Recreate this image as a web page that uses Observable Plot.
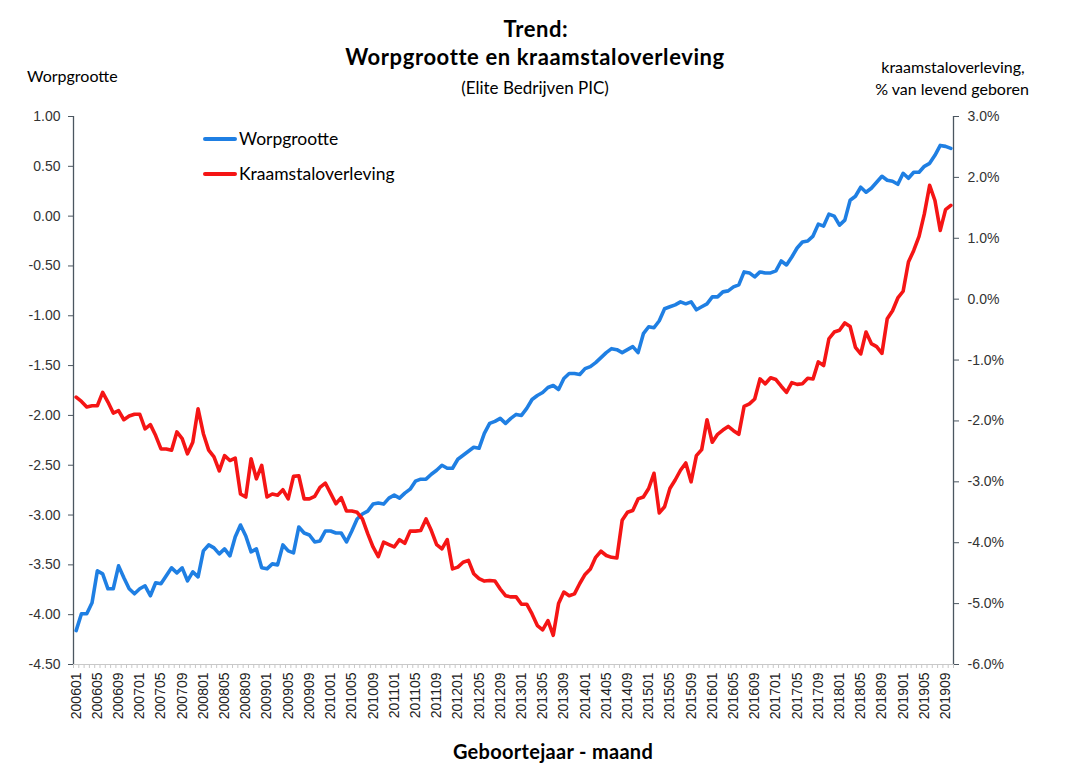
<!DOCTYPE html>
<html>
<head>
<meta charset="utf-8">
<script src="https://cdn.jsdelivr.net/npm/d3@7"></script>
<script src="https://cdn.jsdelivr.net/npm/@observablehq/plot@0.6"></script>
<style>
  body { margin: 0; background: #fff; }
  #wrap { position: relative; width: 1070px; height: 777px; overflow: hidden; }
  .t { position: absolute; white-space: nowrap; line-height: 1; font-family: Lato, "Open Sans", sans-serif; color: #000; }
  .c { transform: translate(-50%, -50%); }
  .l { transform: translate(0, -50%); }
  .sw { position: absolute; height: 4px; width: 34px; border-radius: 2px; }
</style>
</head>
<body>
<div id="wrap">
  <div id="chart"></div>
  <div class="t c" style="left:536px;top:28.5px;font-size:22px;font-weight:700;letter-spacing:0.6px;">Trend:</div>
  <div class="t c" style="left:535px;top:56.5px;font-size:22px;font-weight:700;letter-spacing:0.6px;">Worpgrootte en kraamstaloverleving</div>
  <div class="t c" style="left:535px;top:86.5px;font-size:17px;">(Elite Bedrijven PIC)</div>
  <div class="t l" style="left:27px;top:76px;font-size:16px;">Worpgrootte</div>
  <div class="t c" style="left:953px;top:67px;font-size:16px;">kraamstaloverleving,</div>
  <div class="t c" style="left:952px;top:88.8px;font-size:16px;">% van levend geboren</div>
  <div class="t c" style="left:553px;top:751px;font-size:20px;font-weight:700;letter-spacing:0.3px;">Geboortejaar - maand</div>
  <div class="sw" id="sw1" style="left:203px;top:137px;"></div>
  <div class="t l" id="lg1" style="left:239px;top:139px;font-size:17.5px;"></div>
  <div class="sw" id="sw2" style="left:203px;top:172px;"></div>
  <div class="t l" id="lg2" style="left:239px;top:174px;font-size:17.5px;"></div>
</div>
<script>
// Categories: birth year-month
const months = [
  "200601","200602","200603","200604","200605","200606","200607","200608","200609","200610","200611","200612",
  "200701","200702","200703","200704","200705","200706","200707","200708","200709","200710","200711","200712",
  "200801","200802","200803","200804","200805","200806","200807","200808","200809","200810","200811","200812",
  "200901","200902","200903","200904","200905","200906","200907","200908","200909","200910","200911","200912",
  "201001","201002","201003","201004","201005","201006","201007","201008","201009","201010","201011","201012",
  "201101","201102","201103","201104","201105","201106","201107","201108","201109","201110","201111","201112",
  "201201","201202","201203","201204","201205","201206","201207","201208","201209","201210","201211","201212",
  "201301","201302","201303","201304","201305","201306","201307","201308","201309","201310","201311","201312",
  "201401","201402","201403","201404","201405","201406","201407","201408","201409","201410","201411","201412",
  "201501","201502","201503","201504","201505","201506","201507","201508","201509","201510","201511","201512",
  "201601","201602","201603","201604","201605","201606","201607","201608","201609","201610","201611","201612",
  "201701","201702","201703","201704","201705","201706","201707","201708","201709","201710","201711","201712",
  "201801","201802","201803","201804","201805","201806","201807","201808","201809","201810","201811","201812",
  "201901","201902","201903","201904","201905","201906","201907","201908","201909","201910"
];

// Series 1: Worpgrootte (left axis)
const worpgrootte = [
  -4.16,-3.99,-3.99,-3.88,-3.56,-3.59,-3.74,-3.74,-3.51,-3.63,
  -3.74,-3.79,-3.74,-3.71,-3.81,-3.68,-3.69,-3.61,-3.53,-3.58,
  -3.53,-3.66,-3.57,-3.62,-3.36,-3.30,-3.33,-3.39,-3.34,-3.41,
  -3.22,-3.10,-3.21,-3.37,-3.34,-3.53,-3.54,-3.49,-3.50,-3.30,
  -3.36,-3.38,-3.12,-3.18,-3.20,-3.27,-3.26,-3.16,-3.16,-3.18,
  -3.18,-3.27,-3.16,-3.04,-2.99,-2.96,-2.89,-2.88,-2.89,-2.83,
  -2.80,-2.83,-2.78,-2.74,-2.66,-2.64,-2.64,-2.59,-2.55,-2.50,
  -2.53,-2.53,-2.44,-2.40,-2.36,-2.32,-2.33,-2.18,-2.08,-2.06,
  -2.03,-2.08,-2.03,-1.99,-2.00,-1.93,-1.84,-1.80,-1.77,-1.72,
  -1.70,-1.74,-1.63,-1.58,-1.58,-1.59,-1.53,-1.51,-1.47,-1.42,
  -1.37,-1.33,-1.34,-1.37,-1.34,-1.31,-1.37,-1.18,-1.11,-1.12,
  -1.05,-0.93,-0.91,-0.89,-0.86,-0.88,-0.86,-0.94,-0.91,-0.88,
  -0.81,-0.81,-0.76,-0.75,-0.71,-0.69,-0.56,-0.57,-0.61,-0.56,
  -0.57,-0.57,-0.55,-0.45,-0.49,-0.41,-0.32,-0.26,-0.25,-0.20,
  -0.08,-0.10,0.02,0.00,-0.09,-0.04,0.16,0.20,0.29,0.24,
  0.28,0.34,0.40,0.36,0.35,0.32,0.43,0.38,0.44,0.44,
  0.50,0.53,0.61,0.71,0.70,0.68
];

// Series 2: Kraamstaloverleving, % (right axis)
const kraamstaloverleving = [
  -1.61,-1.68,-1.77,-1.75,-1.75,-1.53,-1.69,-1.87,-1.83,-1.98,
  -1.92,-1.89,-1.89,-2.13,-2.06,-2.24,-2.46,-2.46,-2.48,-2.18,
  -2.29,-2.54,-2.35,-1.80,-2.21,-2.48,-2.59,-2.82,-2.57,-2.65,
  -2.61,-3.20,-3.25,-2.62,-2.95,-2.73,-3.25,-3.20,-3.22,-3.13,
  -3.28,-2.91,-2.90,-3.28,-3.28,-3.24,-3.09,-3.02,-3.19,-3.36,
  -3.26,-3.48,-3.48,-3.50,-3.61,-3.85,-4.07,-4.23,-3.99,-4.03,
  -4.07,-3.95,-4.01,-3.81,-3.81,-3.80,-3.61,-3.80,-4.03,-4.10,
  -3.95,-4.43,-4.40,-4.32,-4.29,-4.51,-4.59,-4.63,-4.62,-4.63,
  -4.76,-4.87,-4.89,-4.89,-5.01,-5.01,-5.17,-5.36,-5.43,-5.28,
  -5.52,-5.00,-4.81,-4.87,-4.84,-4.67,-4.52,-4.43,-4.24,-4.14,
  -4.21,-4.24,-4.25,-3.63,-3.50,-3.47,-3.28,-3.25,-3.11,-2.86,
  -3.51,-3.41,-3.11,-2.97,-2.81,-2.69,-3.00,-2.57,-2.47,-1.98,
  -2.35,-2.22,-2.15,-2.09,-2.16,-2.22,-1.76,-1.72,-1.64,-1.31,
  -1.39,-1.29,-1.32,-1.43,-1.53,-1.37,-1.40,-1.39,-1.30,-1.31,
  -1.03,-1.09,-0.65,-0.54,-0.51,-0.39,-0.45,-0.79,-0.90,-0.54,
  -0.73,-0.78,-0.89,-0.32,-0.19,0.02,0.13,0.61,0.80,1.03,
  1.40,1.87,1.62,1.13,1.47,1.54
];

// Axis tick values
const leftTicks = [-4.5, -4.0, -3.5, -3.0, -2.5, -2.0, -1.5, -1.0, -0.5, 0.0, 0.5, 1.0];
const rightTicks = [-6, -5, -4, -3, -2, -1, 0, 1, 2, 3];
const xLabelEvery = 4;
const seriesNames = ["Worpgrootte", "Kraamstaloverleving"];
const colors = ["#1f7fe3", "#f51515"];

const leftDomain = [leftTicks[0], leftTicks[leftTicks.length - 1]];
const rightDomain = [rightTicks[0], rightTicks[rightTicks.length - 1]];
// map right-axis values onto the left scale (secondary axis)
const toLeft = r => leftDomain[0] + (r - rightDomain[0]) * (leftDomain[1] - leftDomain[0]) / (rightDomain[1] - rightDomain[0]);
const toRight = v => rightDomain[0] + (v - leftDomain[0]) * (rightDomain[1] - rightDomain[0]) / (leftDomain[1] - leftDomain[0]);

const N = months.length;
const data = months.map((m, i) => ({i, m, w: worpgrootte[i], k: toLeft(kraamstaloverleving[i])}));
const boundaries = d3.range(N + 1).map(i => i - 0.5);
const labelIdx = d3.range(0, N, xLabelEvery);

const axisColor = "#4b5660";
const tickFont = "'Liberation Sans', Arial, sans-serif";

const chart = Plot.plot({
  width: 1070,
  height: 777,
  marginLeft: 73,
  marginRight: 117,
  marginTop: 116,
  marginBottom: 113,
  x: {type: "linear", domain: [-0.5, N - 0.5], axis: null},
  y: {domain: leftDomain, axis: null},
  style: {fontFamily: tickFont, fontSize: "14px", color: "#333", background: "transparent"},
  marks: [
    Plot.ruleY([leftDomain[0]], {stroke: "#c8c8c8", strokeWidth: 1.2}),
    Plot.axisX(boundaries, {anchor: "bottom", tickSize: 4, tickFormat: () => "", stroke: "#c8c8c8", label: null}),
    Plot.axisX(labelIdx, {anchor: "bottom", tickSize: 0, tickPadding: 8, tickRotate: -90, tickFormat: i => months[i], fill: "#222", fontSize: 14, label: null}),
    Plot.ruleX([-0.5], {stroke: axisColor, strokeWidth: 1.3}),
    Plot.ruleX([N - 0.5], {stroke: axisColor, strokeWidth: 1.3}),
    Plot.axisY(leftTicks, {anchor: "left", tickSize: 5, tickPadding: 8, stroke: axisColor, fill: "#333", tickFormat: d => d.toFixed(2), label: null}),
    Plot.axisY(rightTicks.map(toLeft), {anchor: "right", tickSize: 5, tickPadding: 9, stroke: axisColor, fill: "#333", tickFormat: v => Math.round(toRight(v)).toFixed(1) + "%", label: null}),
    Plot.line(data, {x: "i", y: "w", stroke: colors[0], strokeWidth: 3.6, strokeLinejoin: "round"}),
    Plot.line(data, {x: "i", y: "k", stroke: colors[1], strokeWidth: 3.6, strokeLinejoin: "round"})
  ]
});
document.getElementById("chart").appendChild(chart);

document.getElementById("sw1").style.background = colors[0];
document.getElementById("sw2").style.background = colors[1];
document.getElementById("lg1").textContent = seriesNames[0];
document.getElementById("lg2").textContent = seriesNames[1];
</script>
</body>
</html>
